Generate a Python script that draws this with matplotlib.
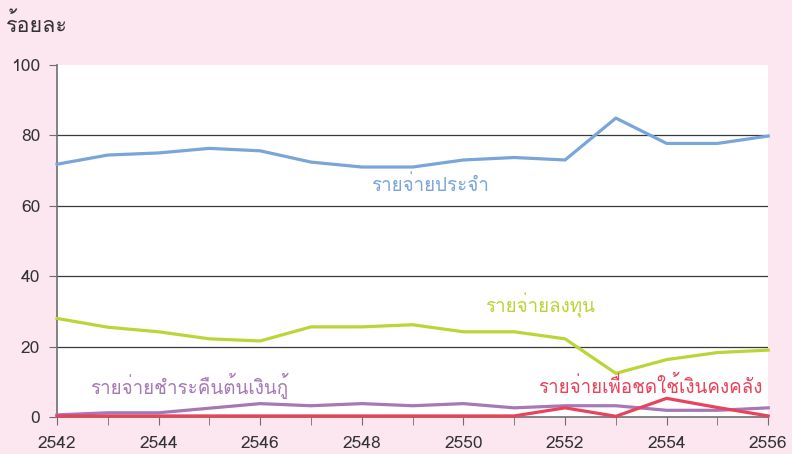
import matplotlib
matplotlib.use('Agg')
import matplotlib.pyplot as plt
from matplotlib import font_manager
from matplotlib.ft2font import FT2Font

years = list(range(2542, 2557))
recurrent = [71.8, 74.4, 75.0, 76.3, 75.6, 72.4, 71.0, 71.0, 73.0, 73.7, 73.0, 84.9, 77.7, 77.7, 79.8]
capital = [28.0, 25.5, 24.2, 22.2, 21.6, 25.6, 25.6, 26.2, 24.2, 24.2, 22.2, 12.4, 16.3, 18.3, 19.0]
loan_repay = [0.6, 1.2, 1.2, 2.5, 3.8, 3.2, 3.8, 3.2, 3.8, 2.6, 3.2, 3.2, 1.9, 1.9, 2.6]
treasury = [0.3, 0.3, 0.3, 0.3, 0.3, 0.3, 0.3, 0.3, 0.3, 0.3, 2.6, 0.2, 5.3, 2.7, 0.3]

labels = ['รายจ่ายประจำ', 'รายจ่ายลงทุน', 'รายจ่ายชำระคืนต้นเงินกู้', 'รายจ่ายเพื่อชดใช้เงินคงคลัง']
y_title = 'ร้อยละ'


def find_thai_font():
    # look for any installed font that actually has Thai glyphs
    for f in font_manager.fontManager.ttflist:
        try:
            cmap = FT2Font(f.fname).get_charmap()
        except Exception:
            continue
        if ord('ร') in cmap and ord('ำ') in cmap:
            return f.name
    return None


thai = find_thai_font()
families = [thai, 'DejaVu Sans'] if thai else ['DejaVu Sans']
plt.rcParams['font.family'] = families

BG = '#fce6f0'
colors = ['#79a5d8', '#bdd438', '#a678b6', '#e8435b']

fig = plt.figure(figsize=(7.92, 4.54), dpi=100, facecolor=BG)
ax = fig.add_axes([0.072, 0.0815, 0.898, 0.7755])
ax.set_facecolor('white')

for vals, c in zip([recurrent, capital, loan_repay, treasury], colors):
    ax.plot(years, vals, color=c, lw=2.3, clip_on=False, zorder=3)

ax.set_xlim(2542, 2556)
ax.set_ylim(0, 100)
ax.set_xticks(range(2542, 2557, 2))
ax.set_xticks(years, minor=True)
ax.set_yticks(range(0, 101, 20))

ax.grid(axis='y', color='#3a3a3a', lw=0.9, zorder=1)
ax.yaxis.get_gridlines()[-1].set_visible(False)
ax.yaxis.get_gridlines()[0].set_visible(False)

for s in ['top', 'right']:
    ax.spines[s].set_visible(False)
for s in ['left', 'bottom']:
    ax.spines[s].set_color('#6e6e6e')
    ax.spines[s].set_linewidth(1.2)

ax.tick_params(axis='both', which='both', direction='out', color='#6e6e6e',
               labelcolor='#333333', labelsize=12.5)
ax.tick_params(axis='x', which='both', length=6, pad=8)
ax.tick_params(axis='y', length=6, pad=6)

ax.text(2549.34, 66.0, labels[0], color=colors[0], fontsize=13.5, ha='center', va='center')
ax.text(2551.5, 31.8, labels[1], color=colors[1], fontsize=13.5, ha='center', va='center')
ax.text(2544.6, 8.8, labels[2], color=colors[2], fontsize=13.5, ha='center', va='center')
ax.text(2553.67, 8.8, labels[3], color=colors[3], fontsize=13.5, ha='center', va='center')

fig.text(0.008, 0.945, y_title, color='#333333', fontsize=15.5, ha='left', va='center')

fig.savefig('out.png', dpi=100, facecolor=BG)
